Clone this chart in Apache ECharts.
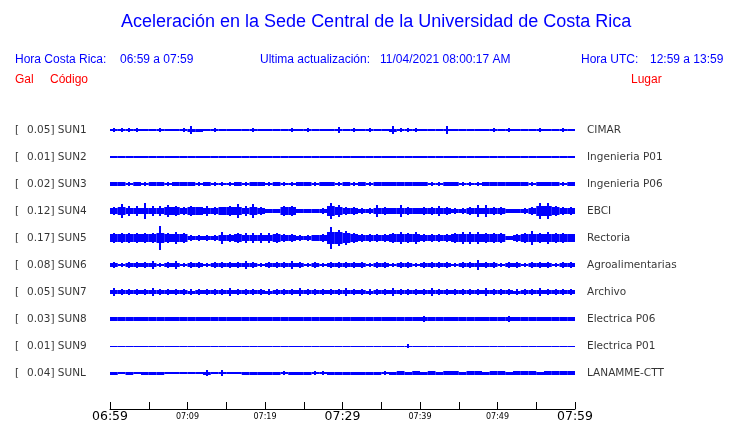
<!DOCTYPE html>
<html>
<head>
<meta charset="utf-8">
<script src="https://cdn.jsdelivr.net/npm/echarts@6/dist/echarts.min.js"></script>
<style>html,body{margin:0;padding:0;background:#fff;}#c{width:740px;height:423px;}</style>
</head>
<body>
<div id="c"></div>
<script>
// ---- data ----
const stationCodes = ['SUN1','SUN2','SUN3','SUN4','SUN5','SUN6','SUN7','SUN8','SUN9','SUNL'];
const peakGal = ['0.05','0.01','0.02','0.12','0.17','0.08','0.05','0.03','0.01','0.04'];
const places = ['CIMAR','Ingenieria P01','Ingenieria P06','EBCI','Rectoria','Agroalimentarias','Archivo','Electrica P06','Electrica P01','LANAMME-CTT'];
const tickLabels = ['06:59','07:09','07:19','07:29','07:39','07:49','07:59'];
const durationMin = 60;

// per-minute envelope of each trace: typical band half-amplitude and peak half-amplitude
const sun1Band = [0.6,0.6,0.6,0.6,0.6,0.6,0.6,0.6,0.6,0.6, 1.5,1.5,1.2,0.6,0.6,0.6,0.6,0.6,0.6,0.6, 0.6,0.6,0.6,0.6,0.6,0.6,0.6,0.6,0.6,1.3, 0.6,0.6,0.6,0.6,0.6,0.6,1.5,0.6,0.6,0.6, 0.6,0.6,0.6,1.2,0.6,0.6,0.6,0.6,0.6,0.6, 0.6,0.6,0.6,0.6,0.6,0.6,0.6,0.6,0.6,1.2];
const sun1Peak = [1.5,1.5,1.2,1.2,0.6,0.6,1.2,0.6,0.6,1.5, 3.7,2,1.5,1.5,0.6,0.6,0.6,0.6,1.2,0.6, 0.6,0.6,0.6,1.2,0.6,1.2,1,1,1,2.5, 1,1.5,0.6,1.2,1,0.6,3.7,1.5,1.2,1.2, 1,1,0.6,4,0.6,1,0.6,0.6,0.6,1.5, 0.6,1.5,0.6,1,0.6,1.2,1,1,1.2,1.5];
const sun2Band = [0.7,0.7,0.7,0.7,0.7,0.7,0.7,0.7,0.7,0.7, 0.7,0.7,0.7,0.7,0.7,0.7,0.7,0.7,0.7,0.7, 0.7,0.7,0.7,0.7,0.7,0.7,0.7,0.7,0.7,0.7, 0.7,0.7,0.7,0.7,0.7,0.7,0.7,0.7,0.7,0.7, 0.7,0.7,0.7,0.7,0.7,0.7,0.7,0.7,0.7,0.7, 0.7,0.7,0.7,0.7,0.7,0.7,0.7,0.7,0.7,0.7];
const sun2Peak = [0.7,0.7,0.7,0.7,0.7,0.7,0.7,0.7,0.7,0.7, 0.7,0.7,0.7,0.7,0.7,0.7,0.7,0.7,0.7,0.7, 0.7,0.7,0.7,0.7,0.7,0.7,0.7,0.7,0.7,0.7, 0.7,0.7,0.7,0.7,0.7,0.7,0.7,0.7,0.7,0.7, 0.7,0.7,0.7,0.7,0.7,0.7,0.7,0.7,0.7,0.7, 0.7,0.7,0.7,0.7,0.7,0.7,0.7,0.7,0.7,0.7];
const sun3Band = [1.7,1.7,1.0,1.7,1.0,1.7,1.7,1.0,1.7,1.7, 1.7,1.0,1.7,1.0,1.0,1.0,1.7,1.0,1.7,1.7, 1.0,1.7,1.0,1.0,1.7,1.7,1.0,1.7,1.7,1.0, 1.7,1.0,1.7,1.0,1.7,1.7,1.7,1.7,1.7,1.7, 1.7,1.0,1.0,1.7,1.7,1.0,1.0,1.0,1.7,1.7, 1.7,1.7,1.7,1.7,1.0,1.7,1.7,1.7,1.0,1.7];
const sun3Peak = [2.2,2.2,1.8,2.2,1.8,2.2,2.2,1.8,2.2,2.2, 2.2,1.8,2.2,1.8,1.8,1.8,2.2,1.8,2.2,2.2, 1.8,2.2,1.8,1.8,2.2,2.2,1.8,2.2,2.2,1.8, 2.2,1.8,2.2,1.8,2.2,2.2,2.2,2.2,2.2,2.2, 2.2,1.8,1.8,2.2,2.2,1.8,1.8,1.8,2.2,2.2, 2.2,2.2,2.2,2.2,1.8,2.2,2.2,2.2,1.8,2.2];
const sun4Band = [3.3,3.8,3.3,3.3,3.3,3.3,3.3,3.8,3.8,3.3, 3.8,3.8,3.3,3.3,3.8,3.8,3.8,3.3,3.8,2.8, 2.4,2.4,3.8,4.3,2.2,2.2,2.2,2.2,4.8,4.3, 2.8,2.8,2.4,2.4,3.3,2.8,2.8,3.3,2.8,3.3, 2.8,3.3,3.3,2.8,2.4,2.4,2.8,3.3,3.3,3.3, 3.3,2.4,2.4,2.4,2.8,4.8,5.3,3.8,2.8,3.3];
const sun4Peak = [4,7,4.5,5,7.5,4.5,5,5.5,4.5,4, 4.5,4,4.5,4,3.5,4.5,7,5,7,3.5, 2.5,2.5,5,5,2,2,2.5,3,8,6, 3.5,3.5,3,3,5.5,3.5,3,5.5,3.5,3.5, 3.5,4,5,3.5,3,3,3.5,5.5,6,4, 4,2.5,2.5,3,3.5,7.5,8,4.5,3.5,4];
const sun5Band = [3.8,3.8,3.8,3.8,3.8,4.3,4.8,4.3,4.3,3.8, 2.2,2.2,2.2,2.2,2.8,3.3,3.8,3.3,3.3,3.3, 3.3,3.8,2.8,3.3,2.2,2.2,2.8,2.8,5.8,5.8, 5.3,4.3,2.8,2.8,2.8,2.8,3.8,4.3,4.3,4.3, 3.3,3.3,3.3,3.3,3.8,4.3,4.3,4.3,4.3,3.8, 3.8,1.6,3.3,3.8,3.8,3.8,4.3,3.8,3.8,4.3];
const sun5Peak = [4.5,5,4.5,5,5,5,12,5,5.5,5, 3,3,3,3,6,4,4.5,4.5,4.5,5, 4.5,5,4,4,3,3,3,3.5,11,8, 7,5,3.5,3.5,3.5,3.5,5,6,5,6, 4,4,4,4,5,6,5.5,5.5,5,5, 4.5,2,4,5,7,5,6,4.5,4.5,4.5];
const sun6Band = [1.6,1.0,1.6,1.6,1.6,1.6,1.0,1.6,1.6,1.0, 1.6,1.6,1.0,1.6,1.6,1.6,1.6,1.6,1.6,1.0, 1.6,1.6,1.6,1.6,1.6,1.0,1.6,1.0,1.6,1.6, 1.6,1.6,1.6,1.0,1.6,1.6,1.0,1.6,1.6,1.0, 1.6,1.6,1.6,1.6,1.0,1.6,1.6,1.6,1.6,1.6, 1.0,1.6,1.6,1.0,1.6,1.6,1.6,1.0,1.6,1.6];
const sun6Peak = [2.2,1.8,2.2,2.2,2.2,4,1.8,2.2,4,1.8, 2.2,2.2,1.8,2.2,2.2,2.2,2.2,4,2.2,1.8, 2.2,2.2,2.2,4,2.2,1.8,2.2,1.8,2.2,3, 2.2,2.2,2.2,1.8,2.2,2.2,1.8,2.2,2.2,1.8, 2.2,2.2,3,2.2,1.8,2.2,2.2,4.5,2.2,2.2, 1.8,2.2,2.2,1.8,2.2,3,2.2,1.8,2.2,2.2];
const sun7Band = [2,2,2,2,2,2.2,2,2,2,2, 1.5,2,2,2,2,2,2,2,2,2, 1.5,2,2,2,2.2,2,2,2,2,2, 2.2,2,2,1.5,2,2,2.2,2,2,2, 2,2.2,2,2,2,2,2,2,2,2, 2,2,1.5,2,2,2.2,2,2,2,2];
const sun7Peak = [3.5,3,3,3,3,4,3,3,3,3, 2.5,3,3,3,3,3.5,3,3,3,3, 2.5,3,3,3,4,3,3,3,3,3, 3.5,3,3,2.5,3,3,4,3,3,3, 3,4,3,3,3,3,3,3,3.5,3, 3,3,2.5,3,3,4,3,3,3,3];
const sun8Band = [2,2,2,2,2,2,2,2,2,2, 2,2,2,2,2,2,2,2,2,2, 2,2,2,2,2,2,2,2,2,2, 2,2,2,2,2,2,2,2,2,2, 2,2,2,2,2,2,2,2,2,2, 2,2,2,2,2,2,2,2,2,2];
const sun8Peak = [2.2,2.2,2.2,2.2,2.2,2.2,2.2,2.2,2.2,2.2, 2.2,2.2,2.2,2.2,2.2,2.2,2.2,2.2,2.2,2.2, 2.2,2.2,2.2,2.2,2.2,2.2,2.2,2.2,2.2,2.2, 2.2,2.2,2.2,2.2,2.2,2.2,2.2,2.2,2.2,2.2, 3,2.2,2.2,2.2,2.2,2.2,2.2,2.2,2.2,2.2, 2.2,3,2.2,2.2,2.2,2.2,2.2,2.2,2.2,2.2];
const sun9Band = [0.5,0.5,0.5,0.5,0.5,0.5,0.5,0.5,0.5,0.5, 0.5,0.5,0.5,0.5,0.5,0.5,0.5,0.5,0.5,0.5, 0.5,0.5,0.5,0.5,0.5,0.5,0.5,0.5,0.5,0.5, 0.5,0.5,0.5,0.5,0.5,0.5,0.5,0.5,0.5,0.5, 0.5,0.5,0.5,0.5,0.5,0.5,0.5,0.5,0.5,0.5, 0.5,0.5,0.5,0.5,0.5,0.5,0.5,0.5,0.5,0.5];
const sun9Peak = [0.5,0.5,0.5,0.5,0.5,0.5,0.5,0.5,0.5,0.5, 0.5,0.5,0.5,0.5,0.5,0.5,0.5,0.5,0.5,0.5, 0.5,0.5,0.5,0.5,0.5,0.5,0.5,0.5,0.5,0.5, 0.5,0.5,0.5,0.5,0.5,0.5,0.5,0.5,1.5,0.5, 0.5,0.5,0.5,0.5,0.5,0.5,0.5,0.5,0.5,0.5, 0.5,0.5,0.5,0.5,0.5,0.5,0.5,0.5,0.5,0.5];
const sunLBand = [1.5,0.7,1.5,1,1.5,1.5,1.5,0.7,0.7,1, 0.7,1,1.5,1,1.2,0.7,1,1.5,1.5,1.5, 1.5,1.5,1.2,1.5,1.5,1.5,1.2,1.2,1.5,1.5, 1.5,1.5,1.5,1.5,1.5,1.2,1.5,1.6,1.5,1.6, 1.5,1.6,1.5,1.6,1.6,1.5,1.6,1.6,1.5,1.6, 1.6,1.5,1.6,1.6,1.6,1.5,1.6,1.8,1.8,1.8];
const sunLPeak = [2,1.2,2,1.5,2,2,2,1.2,1.2,1.5, 1.2,1.5,3,1.5,2.5,1.2,1.5,2,2,2, 2,2,1.8,2,2,2,1.8,1.8,2,2, 2,2,2,2,2,1.8,2,2,2,2, 2,2,2,2,2,2,2,2,2,2, 2,2,2,2,2,2,2,2,2.2,2.2];

const bands = [sun1Band,sun2Band,sun3Band,sun4Band,sun5Band,sun6Band,sun7Band,sun8Band,sun9Band,sunLBand];
const peaks = [sun1Peak,sun2Peak,sun3Peak,sun4Peak,sun5Peak,sun6Peak,sun7Peak,sun8Peak,sun9Peak,sunLPeak];

// ---- chart ----
const ROW_AMP = 27;            // amplitude units per row spacing
const Y_MAX = 292.5 / 27;
const BLUE = '#0000ff';

const traceData = [];
bands.forEach((b, r) => {
  b.forEach((v, m) => traceData.push([m, v, peaks[r][m], r]));
});

const leftLabels = stationCodes.map((c, r) => ({ value: [0, r + 0.5], code: c, gal: peakGal[r] }));
const rightLabels = places.map((p, r) => ({ value: [durationMin, r + 0.5], place: p }));

const chart = echarts.init(document.getElementById('c'), null, { renderer: 'canvas' });

const hdr = (text, left, top, color, size) => ({
  text, left, top,
  textStyle: { color, fontSize: size, fontWeight: 'normal', fontFamily: 'Liberation Sans, Arial, sans-serif' },
  padding: 0
});

chart.setOption({
  animation: false,
  backgroundColor: '#fff',
  title: [
    hdr('Aceleración en la Sede Central de la Universidad de Costa Rica', 121, 13, BLUE, 18),
    hdr('Hora Costa Rica:', 15, 54, BLUE, 12),
    hdr('06:59 a 07:59', 120, 54, BLUE, 12),
    hdr('Ultima actualización:', 260, 54, BLUE, 12),
    hdr('11/04/2021 08:00:17 AM', 380, 54, BLUE, 12),
    hdr('Hora UTC:', 581, 54, BLUE, 12),
    hdr('12:59 a 13:59', 650, 54, BLUE, 12),
    hdr('Gal', 15, 74, '#ff0000', 12),
    hdr('Código', 50, 74, '#ff0000', 12),
    hdr('Lugar', 631, 74, '#ff0000', 12)
  ],
  grid: { left: 110, right: 165, top: 116.5, bottom: 14, containLabel: false },
  xAxis: {
    type: 'value', min: 0, max: durationMin, interval: 5, position: 'bottom',
    axisLine: { show: true, onZero: false, lineStyle: { color: '#000', width: 1 } },
    axisTick: { show: true, inside: true, length: 7, lineStyle: { color: '#000', width: 1 } },
    splitLine: { show: false },
    axisLabel: {
      show: true, margin: 2, showMinLabel: true, showMaxLabel: true, hideOverlap: false,
      formatter: (v) => {
        if (v % 10 !== 0) return '';
        const lbl = tickLabels[v / 10];
        return v % 30 === 0 ? '{big|' + lbl + '}' : '{small|' + lbl + '}';
      },
      rich: {
        big: { fontFamily: 'DejaVu Sans', fontSize: 12.5, color: '#000', lineHeight: 11 },
        small: { fontFamily: 'DejaVu Sans', fontSize: 8, color: '#000', lineHeight: 11 }
      }
    }
  },
  yAxis: { type: 'value', min: 0, max: Y_MAX, inverse: true, show: false },
  series: [
    {
      type: 'custom',
      data: traceData,
      clip: false,
      renderItem: (params, api) => {
        const m = api.value(0), band = api.value(1), peak = api.value(2), row = api.value(3);
        const yc = row + 0.5;
        const a = api.coord([m, yc - band / ROW_AMP]);
        const b = api.coord([m + 1, yc + band / ROW_AMP]);
        const y0 = Math.round(a[1]), y1 = Math.round(b[1]);
        const children = [{
          type: 'rect',
          shape: { x: a[0], y: y0, width: b[0] - a[0], height: Math.max(1, y1 - y0) },
          style: { fill: BLUE }
        }];
        if (peak - band >= 0.55) {
          const t = api.coord([m + 0.5, yc - peak / ROW_AMP]);
          const d = api.coord([m + 0.5, yc + peak / ROW_AMP]);
          const ty = Math.floor(t[1]), dy = Math.ceil(d[1]);
          children.push({
            type: 'rect',
            shape: { x: Math.round(t[0]) - 1, y: ty, width: 2, height: dy - ty },
            style: { fill: BLUE }
          });
        }
        return { type: 'group', children };
      }
    },
    {
      type: 'scatter', symbolSize: 0, data: leftLabels, silent: true,
      label: {
        show: true, position: [-95, 0], align: 'left', verticalAlign: 'middle',
        formatter: (p) => '{a|[}{b|' + p.data.gal + ']} {b|' + p.data.code + '}',
        rich: {
          a: { width: 12, fontFamily: 'DejaVu Sans', fontSize: 10.5, color: '#000' },
          b: { fontFamily: 'DejaVu Sans', fontSize: 10.5, color: '#000' }
        }
      }
    },
    {
      type: 'scatter', symbolSize: 0, data: rightLabels, silent: true,
      label: {
        show: true, position: [12, 0], align: 'left', verticalAlign: 'middle',
        formatter: (p) => p.data.place,
        fontFamily: 'DejaVu Sans', fontSize: 10.5, color: '#000'
      }
    }
  ]
});
</script>
</body>
</html>
